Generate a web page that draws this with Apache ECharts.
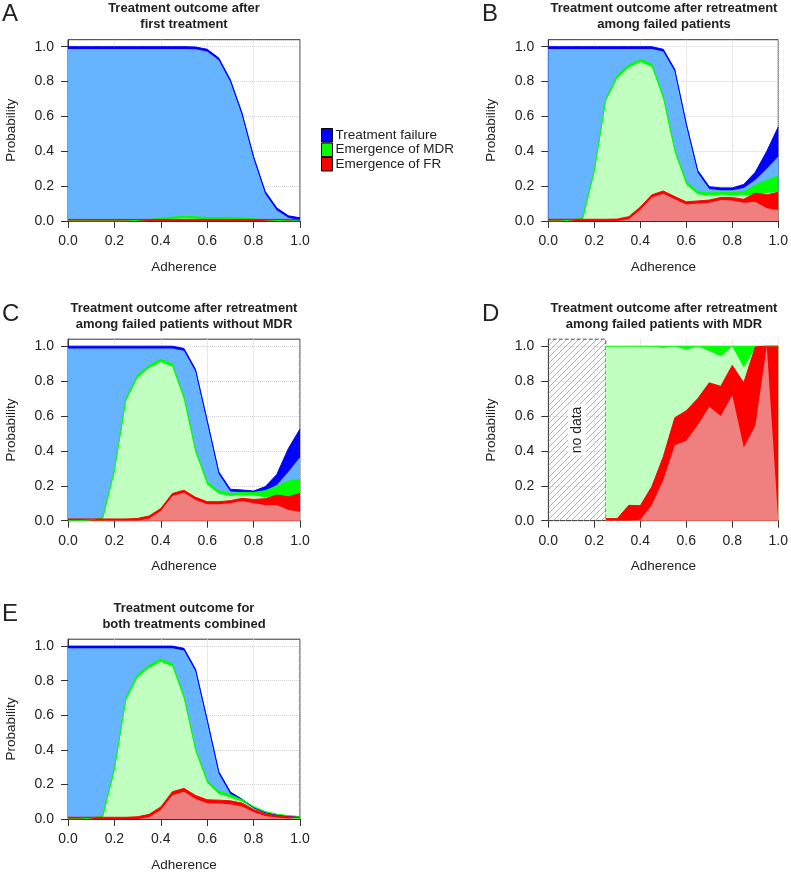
<!DOCTYPE html>
<html>
<head>
<meta charset="utf-8">
<script src="https://cdn.jsdelivr.net/npm/echarts@6/dist/echarts.min.js"></script>
<style>
  html, body { margin: 0; padding: 0; background: #fff; }
  #chart { width: 791px; height: 873px; }
</style>
</head>
<body>
<div id="chart"></div>
<script>
// adherence grid
const xs = [0, 0.05, 0.1, 0.15, 0.2, 0.25, 0.3, 0.35, 0.4, 0.45, 0.5, 0.55, 0.6, 0.65, 0.7, 0.75, 0.8, 0.85, 0.9, 0.95, 1.0]
const xsD = [0.25, 0.3, 0.35, 0.4, 0.45, 0.5, 0.55, 0.6, 0.65, 0.7, 0.75, 0.8, 0.85, 0.9, 0.95, 1.0]
const noDataRange = [0, 0.25]
const yTicks = [0, 0.2, 0.4, 0.6, 0.8, 1.0]
const xTicks = [0, 0.2, 0.4, 0.6, 0.8, 1.0]
const legendNames = ['Treatment failure', 'Emergence of MDR', 'Emergence of FR']

// A: after first treatment
const aFailHi = [1, 1, 1, 1, 1, 1, 1, 1, 1, 1, 1, 0.998, 0.985, 0.935, 0.81, 0.62, 0.37, 0.17, 0.075, 0.03, 0.018]
const aFailLo = [0.987, 0.987, 0.987, 0.987, 0.987, 0.987, 0.987, 0.987, 0.987, 0.987, 0.987, 0.985, 0.972, 0.922, 0.797, 0.607, 0.357, 0.157, 0.062, 0.018, 0.006]
const aMdrHi = [0, 0, 0, 0, 0, 0, 0.004, 0.009, 0.016, 0.022, 0.027, 0.024, 0.02, 0.02, 0.021, 0.017, 0.012, 0.007, 0.003, 0.001, 0]
const aMdrLo = [0, 0, 0, 0, 0, 0, 0, 0, 0.005, 0.011, 0.015, 0.013, 0.01, 0.01, 0.01, 0.007, 0.002, 0, 0, 0, 0]
const aFrHi = [0.009, 0.009, 0.009, 0.009, 0.009, 0.009, 0.009, 0.009, 0.009, 0.009, 0.009, 0.009, 0.009, 0.009, 0.009, 0.009, 0.009, 0.009, 0.009, 0.009, 0.009]
const aFrLo = [0, 0, 0, 0, 0, 0, 0, 0, 0, 0, 0, 0, 0, 0, 0, 0, 0, 0, 0, 0, 0]

// B: retreatment among failed patients
const bFailHi = [1, 1, 1, 1, 1, 1, 1, 1, 1, 1, 0.985, 0.87, 0.56, 0.29, 0.197, 0.19, 0.19, 0.21, 0.28, 0.40, 0.54]
const bFailLo = [0.987, 0.987, 0.987, 0.987, 0.987, 0.987, 0.987, 0.987, 0.987, 0.987, 0.972, 0.857, 0.547, 0.277, 0.184, 0.177, 0.177, 0.19, 0.235, 0.30, 0.37]
const bMdrHi = [0, 0, 0.005, 0.02, 0.29, 0.70, 0.835, 0.895, 0.927, 0.90, 0.715, 0.41, 0.225, 0.168, 0.16, 0.165, 0.163, 0.168, 0.205, 0.235, 0.258]
const bMdrLo = [0, 0, 0, 0.005, 0.275, 0.685, 0.82, 0.88, 0.912, 0.885, 0.70, 0.395, 0.21, 0.153, 0.145, 0.15, 0.148, 0.15, 0.14, 0.16, 0.168]
const bFrHi = [0.01, 0.01, 0.01, 0.01, 0.01, 0.01, 0.011, 0.025, 0.08, 0.15, 0.172, 0.14, 0.11, 0.115, 0.12, 0.135, 0.134, 0.125, 0.16, 0.15, 0.165]
const bFrLo = [0, 0, 0, 0, 0, 0, 0, 0.01, 0.065, 0.135, 0.157, 0.125, 0.095, 0.1, 0.105, 0.12, 0.118, 0.105, 0.11, 0.073, 0.063]

// C: retreatment among failed patients without MDR
const cFailHi = [1, 1, 1, 1, 1, 1, 1, 1, 1, 1, 0.987, 0.866, 0.576, 0.28, 0.18, 0.176, 0.17, 0.195, 0.265, 0.414, 0.525]
const cFailLo = [0.987, 0.987, 0.987, 0.987, 0.987, 0.987, 0.987, 0.987, 0.987, 0.987, 0.974, 0.853, 0.563, 0.267, 0.167, 0.163, 0.158, 0.17, 0.204, 0.28, 0.363]
const cMdrHi = [0, 0, 0.005, 0.02, 0.29, 0.70, 0.834, 0.89, 0.925, 0.897, 0.71, 0.405, 0.223, 0.17, 0.156, 0.162, 0.162, 0.172, 0.198, 0.227, 0.237]
const cMdrLo = [0, 0, 0, 0.005, 0.275, 0.685, 0.819, 0.875, 0.91, 0.882, 0.695, 0.39, 0.208, 0.155, 0.141, 0.147, 0.145, 0.135, 0.141, 0.137, 0.147]
const cFrHi = [0.01, 0.01, 0.01, 0.01, 0.01, 0.01, 0.013, 0.027, 0.07, 0.156, 0.175, 0.134, 0.109, 0.109, 0.115, 0.128, 0.122, 0.126, 0.147, 0.137, 0.156]
const cFrLo = [0, 0, 0, 0, 0, 0, 0, 0.012, 0.055, 0.141, 0.16, 0.119, 0.094, 0.094, 0.1, 0.113, 0.1, 0.09, 0.09, 0.061, 0.052]

// D: retreatment among failed patients with MDR (no data below 0.25)
const dMdrHi = [1, 1, 1, 1, 1, 1, 1, 1, 1, 1, 1, 1, 1, 1, 1, 1]
const dMdrLo = [1, 1, 1, 1, 0.998, 0.99, 1, 0.98, 1, 0.972, 0.943, 1, 0.878, 0.99, 1, 1]
const dFrHi = [0.012, 0.012, 0.088, 0.086, 0.195, 0.366, 0.59, 0.63, 0.70, 0.79, 0.77, 0.89, 0.79, 0.996, 1, 1]
const dFrLo = [0, 0, 0, 0.005, 0.09, 0.233, 0.433, 0.458, 0.548, 0.653, 0.60, 0.72, 0.42, 0.544, 1, 0]

// E: both treatments combined
const eFailHi = [1, 1, 1, 1, 1, 1, 1, 1, 1, 1, 0.987, 0.866, 0.576, 0.275, 0.156, 0.115, 0.065, 0.036, 0.023, 0.015, 0.013]
const eFailLo = [0.987, 0.987, 0.987, 0.987, 0.987, 0.987, 0.987, 0.987, 0.987, 0.987, 0.974, 0.853, 0.563, 0.262, 0.145, 0.104, 0.056, 0.028, 0.017, 0.01, 0.008]
const eMdrHi = [0, 0, 0.005, 0.02, 0.29, 0.70, 0.834, 0.89, 0.925, 0.897, 0.71, 0.405, 0.223, 0.16, 0.14, 0.112, 0.072, 0.044, 0.028, 0.02, 0.014]
const eMdrLo = [0, 0, 0, 0.005, 0.275, 0.685, 0.819, 0.875, 0.91, 0.882, 0.695, 0.39, 0.208, 0.145, 0.125, 0.1, 0.062, 0.035, 0.02, 0.012, 0.006]
const eFrHi = [0.01, 0.01, 0.01, 0.01, 0.01, 0.01, 0.013, 0.027, 0.07, 0.158, 0.177, 0.136, 0.111, 0.109, 0.105, 0.092, 0.055, 0.03, 0.019, 0.012, 0.009]
const eFrLo = [0, 0, 0, 0, 0, 0, 0, 0.01, 0.052, 0.138, 0.157, 0.116, 0.091, 0.089, 0.085, 0.072, 0.04, 0.017, 0.008, 0.003, 0]

const FONT = '"Liberation Sans", Arial, Helvetica, sans-serif'
const TXT = '#222'
const colors = {
  fail: ['#0000ff', '#66b3ff'],
  mdr: ['#00ff00', '#c1ffc1'],
  fr: ['#ff0000', '#f08080']
}

const grids = [
  { left: 68, top: 39.7, width: 232, height: 181.3 },
  { left: 548.3, top: 39.7, width: 231.7, height: 181.3 },
  { left: 68, top: 339.2, width: 232, height: 181.5 },
  { left: 548.3, top: 339.2, width: 231.7, height: 181.5, show: false },
  { left: 68, top: 639.2, width: 232, height: 181.5 }
]

const titles = [
  { letter: 'A', lx: 2, cx: 184, y: 0, text: 'Treatment outcome after\nfirst treatment' },
  { letter: 'B', lx: 482, cx: 664, y: 0, text: 'Treatment outcome after retreatment\namong failed patients' },
  { letter: 'C', lx: 2, cx: 184, y: 300, text: 'Treatment outcome after retreatment\namong failed patients without MDR' },
  { letter: 'D', lx: 482, cx: 664, y: 300, text: 'Treatment outcome after retreatment\namong failed patients with MDR' },
  { letter: 'E', lx: 2, cx: 184, y: 600, text: 'Treatment outcome for\nboth treatments combined' }
]

const pair = (x, y) => x.map((v, i) => [v, y[i]])

const bandSeries = (gi, x, hi, lo, name, col) => [
  {
    name: name,
    type: 'line',
    xAxisIndex: gi,
    yAxisIndex: gi,
    data: pair(x, hi),
    showSymbol: false,
    lineStyle: { color: col[0], width: 1 },
    itemStyle: { color: col[0] },
    areaStyle: { color: col[0], opacity: 1 }
  },
  {
    name: name + ' (lower)',
    type: 'line',
    xAxisIndex: gi,
    yAxisIndex: gi,
    data: pair(x, lo),
    showSymbol: false,
    lineStyle: { width: 0, opacity: 0 },
    itemStyle: { color: col[1] },
    areaStyle: { color: col[1], opacity: 1 }
  }
]

const hatchPattern = () => {
  const c = document.createElement('canvas')
  c.width = 6
  c.height = 6
  const g = c.getContext('2d')
  g.strokeStyle = '#b0b0b0'
  g.lineWidth = 1
  g.beginPath()
  g.moveTo(0, 6); g.lineTo(6, 0)
  g.moveTo(-1, 1); g.lineTo(1, -1)
  g.moveTo(5, 7); g.lineTo(7, 5)
  g.stroke()
  return c
}

const chart = echarts.init(document.getElementById('chart'), null, { renderer: 'canvas' })

const series = [
  ...bandSeries(0, xs, aFailHi, aFailLo, legendNames[0], colors.fail),
  ...bandSeries(0, xs, aMdrHi, aMdrLo, legendNames[1], colors.mdr),
  ...bandSeries(0, xs, aFrHi, aFrLo, legendNames[2], colors.fr),
  ...bandSeries(1, xs, bFailHi, bFailLo, legendNames[0], colors.fail),
  ...bandSeries(1, xs, bMdrHi, bMdrLo, legendNames[1], colors.mdr),
  ...bandSeries(1, xs, bFrHi, bFrLo, legendNames[2], colors.fr),
  ...bandSeries(2, xs, cFailHi, cFailLo, legendNames[0], colors.fail),
  ...bandSeries(2, xs, cMdrHi, cMdrLo, legendNames[1], colors.mdr),
  ...bandSeries(2, xs, cFrHi, cFrLo, legendNames[2], colors.fr),
  ...bandSeries(3, xsD, dMdrHi, dMdrLo, legendNames[1], colors.mdr),
  ...bandSeries(3, xsD, dFrHi, dFrLo, legendNames[2], colors.fr),
  ...bandSeries(4, xs, eFailHi, eFailLo, legendNames[0], colors.fail),
  ...bandSeries(4, xs, eMdrHi, eMdrLo, legendNames[1], colors.mdr),
  ...bandSeries(4, xs, eFrHi, eFrLo, legendNames[2], colors.fr)
]

// hatched "no data" block in panel D
const dFirst = series.find(s => s.xAxisIndex === 3)
dFirst.markArea = {
  silent: true,
  itemStyle: {
    color: { image: hatchPattern(), repeat: 'repeat' },
    borderColor: '#555',
    borderWidth: 1,
    borderType: 'dashed'
  },
  label: {
    show: true,
    position: 'inside',
    rotate: 90,
    color: TXT,
    fontSize: 14,
    fontFamily: FONT,
    backgroundColor: '#fff',
    padding: [2, 2]
  },
  data: [[
    { name: 'no data', xAxis: noDataRange[0], yAxis: 0 },
    { xAxis: noDataRange[1], yAxis: 1.04 }
  ]]
}

const option = {
  animation: false,
  backgroundColor: '#fff',
  textStyle: { fontFamily: FONT },
  legend: {
    data: legendNames,
    orient: 'vertical',
    left: 316,
    top: 123,
    itemWidth: 11,
    itemHeight: 13.5,
    itemGap: 0,
    selectedMode: false,
    icon: 'rect',
    itemStyle: { borderColor: '#000', borderWidth: 1 },
    textStyle: { color: TXT, fontSize: 13.5, fontFamily: FONT, lineHeight: 13.5, padding: [0, 0, 0, -2] }
  },
  grid: grids.map(g => ({
    left: g.left, top: g.top, width: g.width, height: g.height,
    show: g.show !== false, borderColor: '#333', borderWidth: 1,
    containLabel: false
  })),
  xAxis: grids.map((g, i) => ({
    type: 'value',
    gridIndex: i,
    min: 0,
    max: 1,
    interval: 0.2,
    name: 'Adherence',
    nameLocation: 'middle',
    nameGap: 39,
    nameTextStyle: { color: TXT, fontSize: 13.5, fontFamily: FONT },
    axisLine: { show: true, lineStyle: { color: '#333', width: 1 } },
    axisTick: { show: true, length: 7, lineStyle: { color: '#333' } },
    axisLabel: { color: TXT, fontSize: 14, margin: 13, formatter: v => v.toFixed(1), customValues: xTicks },
    splitLine: { show: true, lineStyle: { color: '#d4d4d4', type: 'dotted', width: 1 } }
  })),
  yAxis: grids.map((g, i) => ({
    type: 'value',
    gridIndex: i,
    min: 0,
    max: 1.04,
    interval: 0.2,
    name: 'Probability',
    nameLocation: 'middle',
    nameGap: 50,
    nameTextStyle: { color: TXT, fontSize: 13.5, fontFamily: FONT },
    axisLine: { show: true, lineStyle: { color: '#333', width: 1 } },
    axisTick: { show: true, length: 7, lineStyle: { color: '#333' }, customValues: yTicks },
    axisLabel: { color: TXT, fontSize: 14, margin: 14, formatter: v => v.toFixed(1), customValues: yTicks },
    splitLine: { show: true, lineStyle: { color: '#d4d4d4', type: 'dotted', width: 1 } }
  })),
  graphic: titles.flatMap(t => [
    {
      type: 'text',
      x: t.lx,
      y: t.y + 2,
      style: { text: t.letter, fill: TXT, fontSize: 24, fontFamily: FONT }
    },
    {
      type: 'text',
      x: t.cx,
      y: t.y,
      style: {
        text: t.text, fill: TXT, fontSize: 13, fontWeight: 'bold',
        fontFamily: FONT, lineHeight: 16, align: 'center', verticalAlign: 'top'
      }
    }
  ]),
  series: series
}

chart.setOption(option)
</script>
</body>
</html>
